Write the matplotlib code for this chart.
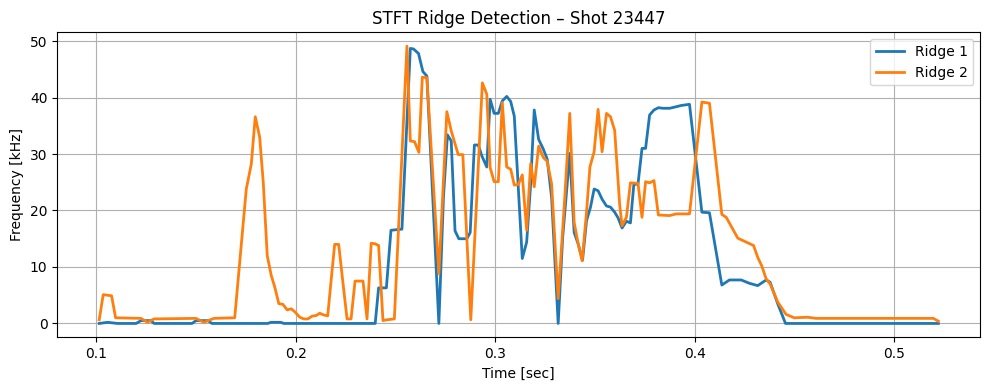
import matplotlib
matplotlib.use("Agg")
import matplotlib.pyplot as plt

# Ridge 1 (time [s], frequency [kHz])
t1 = [0.1015, 0.1057, 0.1107, 0.1200, 0.1224, 0.1274, 0.1290, 0.1480, 0.1500, 0.1560, 0.1580,
      0.1860, 0.1875, 0.1925, 0.1940, 0.2398, 0.2415, 0.2454, 0.2477, 0.2532, 0.2574, 0.2590,
      0.2615, 0.2637, 0.2657, 0.2717, 0.2740, 0.2760, 0.2779, 0.2798, 0.2817, 0.2857, 0.2874,
      0.2895, 0.2915, 0.2932, 0.2957, 0.2974, 0.2994, 0.3015, 0.3035, 0.3057, 0.3077, 0.3095,
      0.3115, 0.3135, 0.3157, 0.3177, 0.3195, 0.3217, 0.3240, 0.3260, 0.3282, 0.3315, 0.3337,
      0.3373, 0.3395, 0.3415, 0.3437, 0.3457, 0.3477, 0.3495, 0.3515, 0.3535, 0.3557, 0.3577,
      0.3598, 0.3615, 0.3635, 0.3657, 0.3677, 0.3694, 0.3715, 0.3735, 0.3753, 0.3773, 0.3795,
      0.3817, 0.3840, 0.3873, 0.3898, 0.3932, 0.3973, 0.4035, 0.4073, 0.4135, 0.4173, 0.4232,
      0.4274, 0.4315, 0.4357, 0.4377, 0.4415, 0.4454, 0.5220]
f1 = [0.0, 0.2, 0.0, 0.0, 0.5, 0.5, 0.0, 0.0, 0.5, 0.5, 0.0,
      0.0, 0.2, 0.2, 0.0, 0.0, 6.3, 6.3, 16.5, 16.7, 48.7, 48.6,
      47.8, 44.6, 43.8, 0.0, 22.3, 33.4, 32.3, 16.4, 15.0, 15.0, 16.1,
      31.6, 31.6, 29.7, 27.7, 39.7, 37.2, 37.2, 39.4, 40.2, 39.3, 36.7,
      24.1, 11.5, 14.4, 24.7, 37.8, 32.6, 30.9, 29.1, 22.3, 0.0, 15.0,
      30.1, 16.1, 14.1, 11.2, 18.2, 20.6, 23.8, 23.5, 22.0, 20.8, 20.6,
      19.7, 18.7, 16.9, 18.1, 17.8, 24.6, 24.7, 31.0, 31.0, 36.9, 37.8,
      38.2, 38.1, 38.1, 38.3, 38.6, 38.8, 19.7, 19.6, 6.8, 7.7, 7.7,
      7.1, 6.7, 7.7, 7.3, 3.5, 0.0, 0.0]

# Ridge 2 (time [s], frequency [kHz])
t2 = [0.1015, 0.1035, 0.1077, 0.1097, 0.1224, 0.1257, 0.1290, 0.1499, 0.1540, 0.1590, 0.1694,
      0.1752, 0.1777, 0.1797, 0.1819, 0.1837, 0.1857, 0.1877, 0.1895, 0.1915, 0.1935, 0.1957,
      0.1977, 0.1997, 0.2020, 0.2040, 0.2060, 0.2082, 0.2102, 0.2120, 0.2140, 0.2160, 0.2182,
      0.2195, 0.2215, 0.2237, 0.2257, 0.2277, 0.2297, 0.2317, 0.2337, 0.2357, 0.2378, 0.2398,
      0.2415, 0.2437, 0.2457, 0.2494, 0.2557, 0.2574, 0.2595, 0.2617, 0.2634, 0.2657, 0.2717,
      0.2757, 0.2779, 0.2814, 0.2837, 0.2877, 0.2935, 0.2957, 0.2974, 0.2994, 0.3015, 0.3035,
      0.3057, 0.3077, 0.3095, 0.3115, 0.3135, 0.3157, 0.3177, 0.3195, 0.3217, 0.3240, 0.3260,
      0.3282, 0.3315, 0.3348, 0.3373, 0.3395, 0.3415, 0.3435, 0.3457, 0.3474, 0.3495, 0.3515,
      0.3535, 0.3557, 0.3577, 0.3598, 0.3623, 0.3635, 0.3657, 0.3677, 0.3715, 0.3735, 0.3753,
      0.3773, 0.3795, 0.3817, 0.3873, 0.3907, 0.3973, 0.4035, 0.4073, 0.4135, 0.4157, 0.4215,
      0.4294, 0.4315, 0.4335, 0.4357, 0.4377, 0.4415, 0.4457, 0.4498, 0.4565, 0.4607, 0.5195,
      0.5220]
f2 = [0.65, 5.1, 4.9, 1.0, 0.9, 0.2, 0.8, 0.9, 0.2, 0.9, 1.0,
      23.8, 28.2, 36.6, 33.0, 25.0, 12.0, 8.5, 6.4, 3.5, 3.4, 2.4,
      2.6, 2.0, 1.1, 0.8, 0.8, 1.3, 1.4, 1.8, 1.5, 1.35, 9.4,
      14.0, 14.0, 7.0, 0.8, 0.8, 7.5, 7.5, 7.5, 0.8, 14.2, 14.1,
      13.8, 0.5, 0.65, 0.8, 49.1, 32.3, 32.2, 30.3, 43.6, 43.5, 8.8,
      37.5, 34.1, 29.9, 29.9, 0.65, 42.6, 40.6, 27.6, 25.1, 25.1, 39.1,
      27.7, 27.3, 24.5, 24.6, 26.3, 16.5, 28.3, 24.2, 31.4, 29.4, 28.7,
      24.7, 4.4, 22.3, 37.2, 17.9, 14.1, 11.1, 19.7, 27.7, 30.4, 37.9,
      30.4, 37.2, 36.6, 34.2, 21.1, 17.3, 18.8, 24.9, 24.8, 18.8, 25.1,
      24.9, 25.3, 19.2, 19.1, 19.4, 19.4, 39.2, 39.0, 19.3, 18.8, 15.1,
      13.8, 11.7, 10.2, 7.9, 7.0, 3.8, 1.6, 1.0, 1.1, 0.9, 0.9,
      0.4]

fig, ax = plt.subplots(figsize=(9.89, 3.9), dpi=100)
ax.plot(t1, f1, color="#1f77b4", lw=2, label="Ridge 1")
ax.plot(t2, f2, color="#ff7f0e", lw=2, label="Ridge 2")
ax.set_title("STFT Ridge Detection – Shot 23447")
ax.set_xlabel("Time [sec]")
ax.set_ylabel("Frequency [kHz]")
ax.grid(True)
ax.legend(loc="upper right")
fig.subplots_adjust(left=0.0579, right=0.9912, top=0.9172, bottom=0.1351)
fig.savefig("out.png", dpi=100)
